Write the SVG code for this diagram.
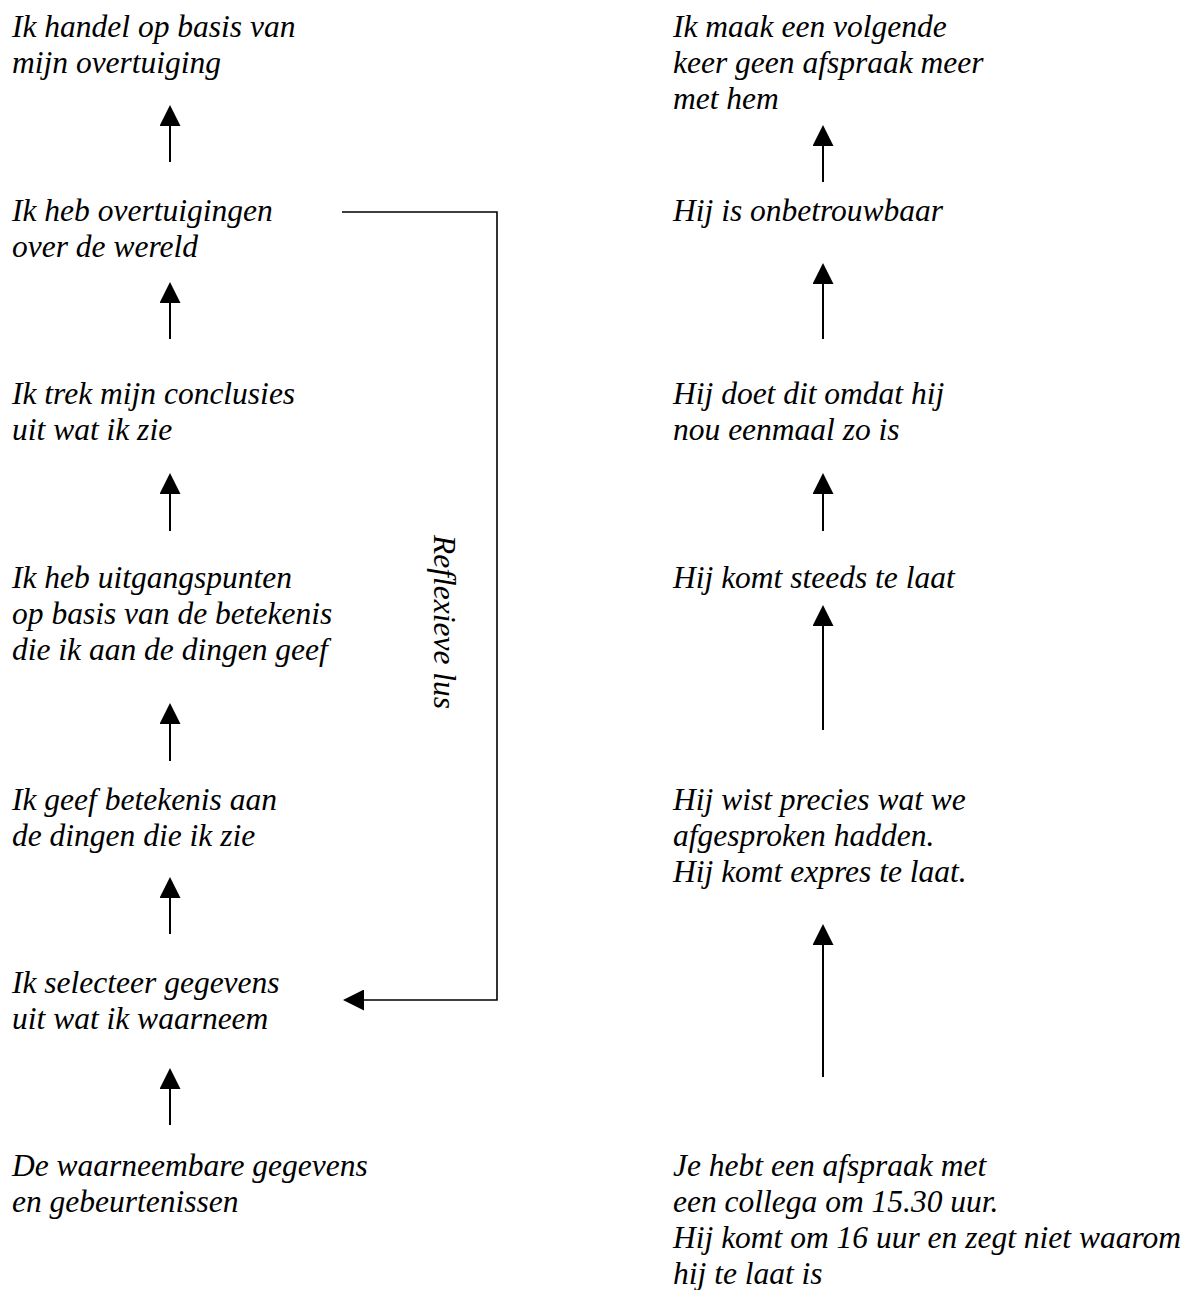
<svg xmlns="http://www.w3.org/2000/svg" width="1199" height="1290" viewBox="0 0 1199 1290">
<style>
text{font-family:"Liberation Serif","Times New Roman",serif;font-style:italic;font-size:31.5px;fill:#000}
.arr{stroke:#000;stroke-width:2;fill:none}
.loop{stroke:#000;stroke-width:1.6;fill:none}
</style>
<defs>
<marker id="ah" markerUnits="userSpaceOnUse" markerWidth="21" markerHeight="21" refX="0" refY="10.5" orient="auto" viewBox="0 0 21 21">
<path d="M0,0 L21,10.5 L0,21 Z" fill="#000"/>
</marker>
</defs>
<rect width="1199" height="1290" fill="#fff"/>
<g id="n-l1"><text x="12" y="37">Ik handel op basis van</text><text x="12" y="73">mijn overtuiging</text></g>
<g id="n-l2"><text x="12" y="221">Ik heb overtuigingen</text><text x="12" y="257">over de wereld</text></g>
<g id="n-l3"><text x="12" y="404">Ik trek mijn conclusies</text><text x="12" y="440">uit wat ik zie</text></g>
<g id="n-l4"><text x="12" y="588">Ik heb uitgangspunten</text><text x="12" y="624">op basis van de betekenis</text><text x="12" y="660">die ik aan de dingen geef</text></g>
<g id="n-l5"><text x="12" y="810">Ik geef betekenis aan</text><text x="12" y="846">de dingen die ik zie</text></g>
<g id="n-l6"><text x="12" y="993">Ik selecteer gegevens</text><text x="12" y="1029">uit wat ik waarneem</text></g>
<g id="n-l7"><text x="12" y="1176">De waarneembare gegevens</text><text x="12" y="1212">en gebeurtenissen</text></g>
<g id="n-r1"><text x="673" y="37">Ik maak een volgende</text><text x="673" y="73">keer geen afspraak meer</text><text x="673" y="109">met hem</text></g>
<g id="n-r2"><text x="673" y="221">Hij is onbetrouwbaar</text></g>
<g id="n-r3"><text x="673" y="404">Hij doet dit omdat hij</text><text x="673" y="440">nou eenmaal zo is</text></g>
<g id="n-r4"><text x="673" y="588">Hij komt steeds te laat</text></g>
<g id="n-r5"><text x="673" y="810">Hij wist precies wat we</text><text x="673" y="846">afgesproken hadden.</text><text x="673" y="882">Hij komt expres te laat.</text></g>
<g id="n-r6"><text x="673" y="1176">Je hebt een afspraak met</text><text x="673" y="1212">een collega om 15.30 uur.</text><text x="673" y="1248">Hij komt om 16 uur en zegt niet waarom</text><text x="673" y="1284">hij te laat is</text></g>
<g id="lbl-loop"><text transform="translate(434,622) rotate(90)" text-anchor="middle">Reflexieve lus</text></g>
<g id="connectors">
<line class="arr" x1="170" y1="162" x2="170" y2="126" marker-end="url(#ah)"/>
<line class="arr" x1="170" y1="339" x2="170" y2="303" marker-end="url(#ah)"/>
<line class="arr" x1="170" y1="531" x2="170" y2="494" marker-end="url(#ah)"/>
<line class="arr" x1="170" y1="761" x2="170" y2="724" marker-end="url(#ah)"/>
<line class="arr" x1="170" y1="934" x2="170" y2="898" marker-end="url(#ah)"/>
<line class="arr" x1="170" y1="1125" x2="170" y2="1089" marker-end="url(#ah)"/>
<line class="arr" x1="823" y1="182" x2="823" y2="146" marker-end="url(#ah)"/>
<line class="arr" x1="823" y1="339" x2="823" y2="284" marker-end="url(#ah)"/>
<line class="arr" x1="823" y1="531" x2="823" y2="494" marker-end="url(#ah)"/>
<line class="arr" x1="823" y1="730" x2="823" y2="626" marker-end="url(#ah)"/>
<line class="arr" x1="823" y1="1077" x2="823" y2="945" marker-end="url(#ah)"/>
<path class="loop" d="M342,212 H497 V1000 H364" marker-end="url(#ah)"/>
</g>
</svg>
